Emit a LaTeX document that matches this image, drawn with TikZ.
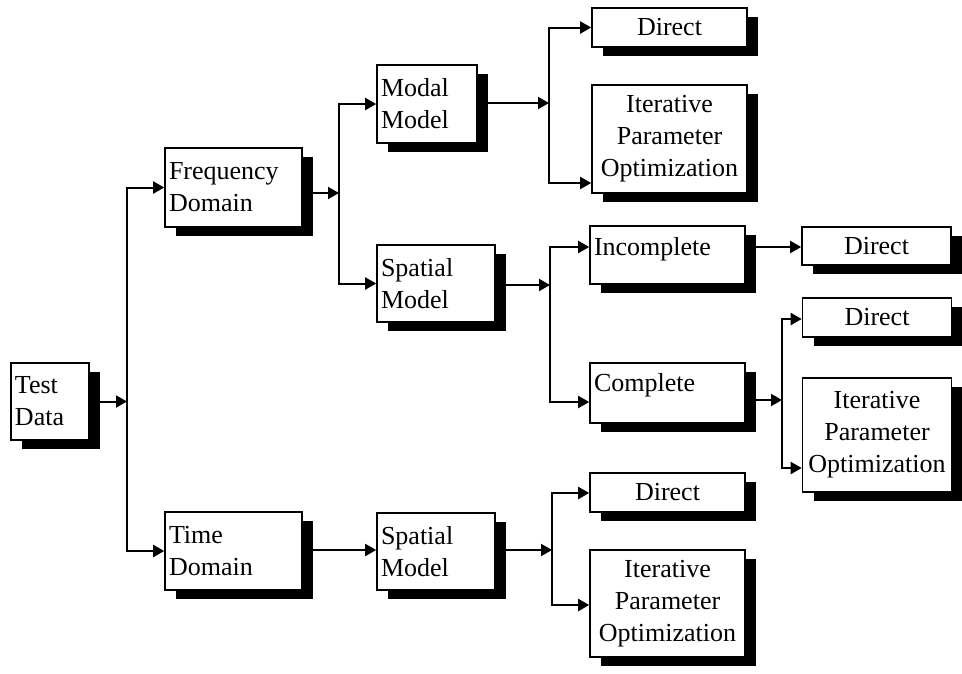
\documentclass[tikz,border=0pt]{standalone}
\usepackage{fontspec}
\setmainfont{Liberation Serif}
\usetikzlibrary{arrows.meta,shadows}
\pgfdeclarelayer{wires}
\pgfsetlayers{wires,main}

\tikzset{
  box/.style={draw, fill=white, line width=1.6pt, inner xsep=4pt, inner ysep=0pt,
    font=\fontsize{26}{32}\selectfont,
    general shadow={fill=black, shadow xshift=11pt, shadow yshift=-9pt}},
  lbox/.style 2 args={box, align=left, text width=#1, minimum height=#2},
  cbox/.style 2 args={box, align=center, text width=#1, minimum height=#2},
  wire/.style={line width=2pt, line join=miter},
  arr/.style={wire, -{Triangle[length=11pt,width=12pt]}}
}

\begin{document}
\begin{tikzpicture}[x=1pt,y=-1pt]
\useasboundingbox (0,0) rectangle (962,673);

% source and domains
\node[lbox={70pt}{77pt}]  (td)  at (50,401.5)   {Test\\Data};
\node[lbox={129pt}{79pt}] (fd)  at (233.5,187.5) {Frequency\\Domain};
\node[lbox={129pt}{78pt}] (tmd) at (233.5,551)   {Time\\Domain};

% models
\node[lbox={92pt}{78pt}]  (mm)  at (427,104)   {Modal\\Model};
\node[lbox={110pt}{77pt}] (sm1) at (436,283.5) {Spatial\\Model};
\node[lbox={110pt}{77pt}] (sm2) at (436,551.5) {Spatial\\Model};

% modal model branch
\node[cbox={147pt}{39pt}]  (d1)   at (669.5,27.5) {Direct};
\node[cbox={147pt}{108pt}] (ipo1) at (669.5,139)  {Iterative\\Parameter\\Optimization};

% spatial model branch (frequency domain)
\node[lbox={147pt}{58pt}, text height=18pt, text depth=18pt] (inc) at (667.5,255) {Incomplete};
\node[cbox={141pt}{38pt}]  (d2)   at (876.5,246) {Direct};
\node[lbox={147pt}{60pt}, text height=18pt, text depth=22pt] (cmp) at (667.5,393) {Complete};
\node[cbox={141pt}{39pt}]  (d3)   at (877,317.5) {Direct};
\node[cbox={141pt}{114pt}] (ipo2) at (877,435)   {Iterative\\Parameter\\Optimization};

% spatial model branch (time domain)
\node[cbox={147pt}{39pt}]  (d4)   at (667.5,492.5) {Direct};
\node[cbox={147pt}{107pt}] (ipo3) at (667.5,603.5) {Iterative\\Parameter\\Optimization};

% junction points of the branching buses
\coordinate (b1) at (127,401.5);
\coordinate (b2) at (339,193);
\coordinate (b3) at (549,103);
\coordinate (b4) at (550,285);
\coordinate (b5) at (782,400);
\coordinate (b6) at (552,550);

\begin{pgfonlayer}{wires}
  \draw[arr] (td) -- (b1);
  \draw[arr] (b1) |- (fd);
  \draw[arr] (b1) |- (tmd);

  \draw[arr] (fd.east |- b2) -- (b2);
  \draw[arr] (b2) |- (mm);
  \draw[arr] (b2) |- (sm1);

  \draw[arr] (mm.east |- b3) -- (b3);
  \draw[arr] (b3) |- (d1);
  \draw[arr] (b3) |- (ipo1.west |- 0,183);

  \draw[arr] (sm1.east |- b4) -- (b4);
  \draw[arr] (b4) |- (inc.west |- 0,247);
  \draw[arr] (b4) |- (cmp.west |- 0,402);
  \draw[arr] (inc.east |- 0,247) -- (d2.west |- 0,247);

  \draw[arr] (cmp.east |- b5) -- (b5);
  \draw[arr] (b5) |- (d3.west |- 0,319);
  \draw[arr] (b5) |- (ipo2.west |- 0,468);

  \draw[arr] (tmd.east |- 0,550) -- (sm2.west |- 0,550);
  \draw[arr] (sm2.east |- b6) -- (b6);
  \draw[arr] (b6) |- (d4.west |- 0,493);
  \draw[arr] (b6) |- (ipo3.west |- 0,605);
\end{pgfonlayer}
\end{tikzpicture}
\end{document}
